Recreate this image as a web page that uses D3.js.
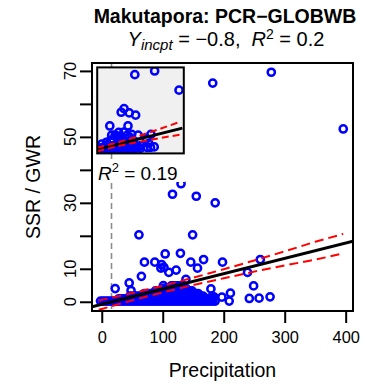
<!DOCTYPE html>
<html>
<head>
<meta charset="utf-8">
<script src="https://cdn.jsdelivr.net/npm/d3@7"></script>
<style>
  body { margin: 0; background: #fff; }
  text { font-family: "Liberation Sans", Arial, sans-serif; fill: #000; white-space: pre; }
</style>
</head>
<body>
<div id="vis-holder"></div>
<script>
// Chart values
const xTicks = [0, 100, 200, 300, 400];
const yTicks = [0, 10, 20, 30, 40, 50, 60, 70];
const yTickLabels = ["0", "10", "", "30", "", "50", "", "70"];

// Scattered points: Precipitation (x) and SSR / GWR (y)
const precip = [
  182, 278, 396, 130, 116, 155, 186, 61, 149, 104, 129, 70, 87, 98, 146, 167, 198,
  122, 110, 157, 65, 260, 239, 249, 242, 258, 276, 211, 197, 209, 179, 138, 22, 45,
  48, 101, 167, 149, 97, 102, 184, 178, 183
];
const ratio = [
  66.3, 69.6, 52.4, 35.8, 32.6, 32.0, 30.0, 20.3, 20.3, 14.5, 14.7, 12.0, 12.0, 11.3, 12.0, 12.8, 12.0,
  9.6, 8.9, 10.2, 7.7, 12.8, 8.9, 4.8, 1.0, 1.1, 1.5, 2.6, 1.4, 0.2, 3.9, 6.8, 4.0, 5.7,
  3.4, 4.9, 1.5, 2.2, 10.2, 10.4, 1.5, 1.2, 1.3
];

// Dense mass of points near zero, one row per SSR / GWR level
const denseRowY = [0.2, 0.9, 1.7, 2.5, 3.3, 4.1, 4.8];
const denseRowX = [
  [-2, 2, 6, 10, 14, 18, 22, 26, 30, 34, 38, 42, 46, 50, 54, 58, 62, 66, 70, 74, 78, 82, 86, 90,
   94, 98, 102, 106, 110, 114, 118, 122, 126, 130, 134, 138, 142, 146, 150, 154, 158, 162, 166,
   170, 174, 178, 182, 186],
  [28, 32, 36, 40, 44, 48, 52, 56, 60, 64, 68, 72, 76, 80, 84, 88, 92, 96, 100, 104, 108, 112,
   116, 120, 124, 128, 132, 136, 140, 144, 148, 152, 156, 160, 164, 168, 172, 176, 180],
  [46, 50, 54, 58, 62, 66, 70, 74, 78, 82, 86, 90, 94, 98, 102, 106, 110, 114, 118, 122, 126,
   130, 134, 138, 142, 146, 150, 154, 158, 162, 166],
  [70, 74, 78, 82, 86, 90, 94, 98, 102, 106, 110, 114, 118, 122, 126, 130, 134, 138, 142, 146,
   150, 154, 158],
  [88, 92, 96, 100, 104, 108, 112, 116, 120, 124, 128, 132, 136, 140, 144, 148],
  [102, 106, 110, 114, 118, 122, 126, 130, 134, 138],
  [114, 118, 122, 126, 130, 134]
];

// Regression line and confidence band (main panel)
const fitX = [-16, 412];
const fitY = [-1.54, 18.36];
const bandX = [-5, 0, 50, 100, 150, 200, 250, 300, 350, 396];
const bandUpper = [0.38, 0.57, 2.63, 4.85, 7.28, 9.87, 12.51, 15.29, 18.18, 20.58];
const bandLower = [-2.44, -2.17, 0.42, 2.85, 5.07, 7.13, 9.14, 11.02, 12.77, 14.64];

// Confidence band drawn in the inset
const insetBandX = [0, 100, 200, 300, 400];
const insetUpper = [0.8, 5.6, 11.2, 17.4, 24.0];
const insetLower = [-2.4, 2.2, 6.0, 9.3, 12.5];

// Vertical reference line
const vlineX = [16];

const width = 367;
const height = 390;
const plot = { left: 92, right: 353, top: 63, bottom: 311 };

const svg = d3.select("#vis-holder")
  .append("svg")
  .attr("width", width)
  .attr("height", height);

const x = d3.scaleLinear().domain([-16, 412]).range([plot.left, plot.right]);
const y = d3.scaleLinear().domain([-2.8, 72.4]).range([plot.bottom, plot.top]);

// All points in one list
const pts = precip.map((p, i) => ({ p: p, r: ratio[i] }));
denseRowX.forEach((row, j) => {
  row.forEach((p) => pts.push({ p: p, r: denseRowY[j] }));
});

// Clip for the main panel
svg.append("clipPath").attr("id", "clipMain")
  .append("rect")
  .attr("x", plot.left).attr("y", plot.top)
  .attr("width", plot.right - plot.left).attr("height", plot.bottom - plot.top);

const main = svg.append("g").attr("clip-path", "url(#clipMain)");

// Dashed grey vertical line
main.selectAll(".vline")
  .data(vlineX)
  .enter()
  .append("line")
  .attr("x1", (d) => x(d)).attr("x2", (d) => x(d))
  .attr("y1", plot.top).attr("y2", plot.bottom)
  .attr("stroke", "#8c8c8c")
  .attr("stroke-width", 1.6)
  .attr("stroke-dasharray", "6,4");

// Points
main.selectAll(".pt")
  .data(pts)
  .enter()
  .append("circle")
  .attr("cx", (d) => x(d.p))
  .attr("cy", (d) => y(d.r))
  .attr("r", 3.6)
  .attr("fill", "none")
  .attr("stroke", "#0000ff")
  .attr("stroke-width", 2.5);

// Regression line and band
const fitLine = d3.line().x((d) => x(d[0])).y((d) => y(d[1]));
main.append("path")
  .attr("d", fitLine(fitX.map((v, i) => [v, fitY[i]])))
  .attr("fill", "none").attr("stroke", "#000").attr("stroke-width", 3);

[bandUpper, bandLower].forEach((b) => {
  main.append("path")
    .attr("d", fitLine(bandX.map((v, i) => [v, b[i]])))
    .attr("fill", "none").attr("stroke", "#ff0000")
    .attr("stroke-width", 2).attr("stroke-dasharray", "9,5");
});

// Box
svg.append("rect")
  .attr("x", plot.left).attr("y", plot.top)
  .attr("width", plot.right - plot.left).attr("height", plot.bottom - plot.top)
  .attr("fill", "none").attr("stroke", "#000").attr("stroke-width", 2);

// X axis
const xAxis = svg.append("g")
  .attr("transform", `translate(0,${plot.bottom})`)
  .call(d3.axisBottom(x).tickValues(xTicks).tickSize(12).tickPadding(8));
xAxis.select(".domain").remove();
xAxis.selectAll("line").attr("stroke-width", 2);
xAxis.selectAll("text")
  .attr("font-size", "16.4px")
  .attr("font-family", "Liberation Sans, Arial, sans-serif");

// Y axis
const yAxis = svg.append("g")
  .attr("transform", `translate(${plot.left},0)`)
  .call(d3.axisLeft(y).tickValues(yTicks).tickSize(12).tickFormat(""));
yAxis.select(".domain").remove();
yAxis.selectAll("line").attr("stroke-width", 2);

svg.selectAll(".ylab")
  .data(yTicks)
  .enter()
  .append("text")
  .attr("transform", (d) => `translate(76,${y(d)}) rotate(-90)`)
  .attr("text-anchor", "middle")
  .attr("font-size", "16.4px")
  .text((d, i) => yTickLabels[i]);

// Axis titles
svg.append("text")
  .attr("x", (plot.left + plot.right) / 2)
  .attr("y", 377)
  .attr("text-anchor", "middle")
  .attr("font-size", "19.5px")
  .text("Precipitation");

svg.append("text")
  .attr("transform", `translate(40,${(plot.top + plot.bottom) / 2}) rotate(-90)`)
  .attr("text-anchor", "middle")
  .attr("font-size", "19.5px")
  .text("SSR / GWR");

// Title and subtitle
svg.append("text")
  .attr("x", 225).attr("y", 23)
  .attr("text-anchor", "middle")
  .attr("font-size", "19.5px")
  .attr("font-weight", "bold")
  .text("Makutapora: PCR\u2212GLOBWB");

const sub = svg.append("text")
  .attr("x", 226).attr("y", 46)
  .attr("text-anchor", "middle")
  .attr("font-size", "20px");
sub.append("tspan").attr("font-style", "italic").text("Y");
sub.append("tspan").attr("font-style", "italic").attr("font-size", "15px").attr("dy", 4).text("incpt");
sub.append("tspan").attr("dy", -4).text(" = \u22120.8,  ");
sub.append("tspan").attr("font-style", "italic").text("R");
sub.append("tspan").attr("font-size", "14px").attr("dy", -7).text("2");
sub.append("tspan").attr("dy", 7).text(" = 0.2");

// R^2 label inside plot
svg.append("rect")
  .attr("x", 97).attr("y", 160).attr("width", 88).attr("height", 22)
  .attr("fill", "#fff");
const r2 = svg.append("text")
  .attr("x", 98).attr("y", 180)
  .attr("font-size", "19px");
r2.append("tspan").attr("font-style", "italic").text("R");
r2.append("tspan").attr("font-size", "13px").attr("dy", -8).text("2");
r2.append("tspan").attr("dy", 8).text(" = 0.19");

// Inset panel: same data on a squeezed frame
const inset = { left: 97.2, right: 183.8, top: 67.4, bottom: 153.4 };
const xi = d3.scaleLinear().domain([0, 419]).range([inset.left, inset.right]);
const yi = d3.scaleLinear().domain([-4.3, 72.8]).range([inset.bottom, inset.top]);

svg.append("rect")
  .attr("x", inset.left).attr("y", inset.top)
  .attr("width", inset.right - inset.left).attr("height", inset.bottom - inset.top)
  .attr("fill", "#f0f0f0");

svg.append("clipPath").attr("id", "clipInset")
  .append("rect")
  .attr("x", inset.left).attr("y", inset.top)
  .attr("width", inset.right - inset.left).attr("height", inset.bottom - inset.top);

const ig = svg.append("g").attr("clip-path", "url(#clipInset)");

ig.selectAll(".ipt")
  .data(pts)
  .enter()
  .append("circle")
  .attr("cx", (d) => xi(d.p))
  .attr("cy", (d) => yi(d.r))
  .attr("r", 3.6)
  .attr("fill", "none")
  .attr("stroke", "#0000ff")
  .attr("stroke-width", 2.5);

const insetLine = d3.line().x((d) => xi(d[0])).y((d) => yi(d[1]));
ig.append("path")
  .attr("d", insetLine(fitX.map((v, i) => [v, fitY[i]])))
  .attr("fill", "none").attr("stroke", "#000").attr("stroke-width", 3);

[insetUpper, insetLower].forEach((b) => {
  ig.append("path")
    .attr("d", insetLine(insetBandX.map((v, i) => [v, b[i]])))
    .attr("fill", "none").attr("stroke", "#ff0000")
    .attr("stroke-width", 2).attr("stroke-dasharray", "7,4");
});

svg.append("rect")
  .attr("x", inset.left).attr("y", inset.top)
  .attr("width", inset.right - inset.left).attr("height", inset.bottom - inset.top)
  .attr("fill", "none").attr("stroke", "#000").attr("stroke-width", 2);
</script>
</body>
</html>
